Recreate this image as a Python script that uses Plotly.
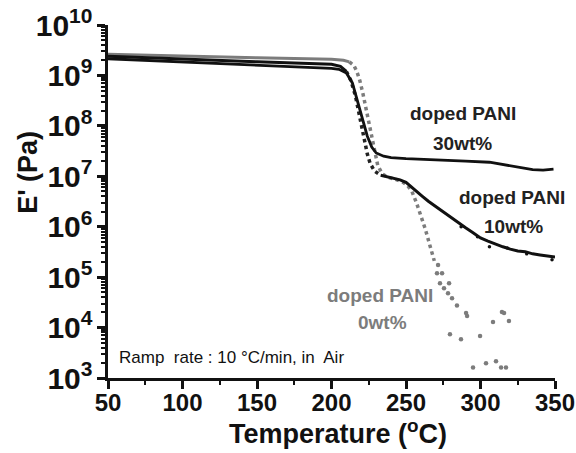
import plotly.graph_objects as go

# ---------------- data ----------------
# doped PANI 30wt%  (solid black)
T_30 = [50, 75, 100, 125, 150, 175, 200, 205, 210, 214, 218, 221, 224, 227, 230,
        235, 240, 250, 260, 273, 290, 306, 318, 327, 335, 342, 349]
E_30 = [2.14e9, 2.0e9, 1.82e9, 1.70e9, 1.58e9, 1.48e9, 1.38e9, 1.32e9, 1.12e9, 7.1e8,
        2.8e8, 1.26e8, 6.3e7, 3.8e7, 2.9e7, 2.5e7, 2.35e7, 2.24e7, 2.19e7, 2.09e7,
        2.0e7, 1.9e7, 1.66e7, 1.48e7, 1.35e7, 1.32e7, 1.38e7]

# doped PANI 10wt%  (black)
T_10 = [50, 100, 150, 200, 206, 210, 213, 216, 218, 220, 222, 224, 226, 229, 233,
        240, 246, 250, 253, 257, 261, 265, 270, 275, 280, 285, 290, 295, 300, 305,
        310, 315, 320, 325, 330, 335, 340, 345, 350]
E_10 = [2.4e9, 2.09e9, 1.86e9, 1.66e9, 1.51e9, 1.2e9, 7.9e8, 4.0e8, 2.0e8, 1.0e8,
        5.0e7, 2.8e7, 1.78e7, 1.26e7, 1.05e7, 9.3e6, 8.5e6, 7.6e6, 6.3e6, 5.0e6,
        4.0e6, 3.2e6, 2.5e6, 2.0e6, 1.58e6, 1.2e6, 9.5e5, 7.6e5, 6.0e5, 5.2e5,
        4.5e5, 4.0e5, 3.6e5, 3.3e5, 3.2e5, 2.9e5, 2.75e5, 2.6e5, 2.5e5]
# stray points in the noisy tail of the 10wt% curve
T_10_dots = [287, 298, 306, 318, 331, 348]
E_10_dots = [1.0e6, 6.3e5, 4.0e5, 3.8e5, 2.9e5, 2.2e5]

# doped PANI 0wt%  (grey dotted)
T_0 = [50, 100, 150, 200, 208, 212, 215, 217, 219, 221, 223, 225, 227, 229, 231,
       234, 238, 243, 248, 251, 254, 257, 260, 263, 266, 269]
E_0 = [2.63e9, 2.4e9, 2.24e9, 2.09e9, 2.0e9, 1.86e9, 1.58e9, 1.2e9, 7.9e8, 4.5e8,
       2.24e8, 1.12e8, 6.0e7, 3.0e7, 1.66e7, 1.12e7, 9.5e6, 8.7e6, 7.6e6, 6.6e6,
       5.0e6, 3.0e6, 1.66e6, 8.9e5, 4.3e5, 2.1e5]
T_0_dots = [271.5, 270.8, 274.2, 272.8, 278.9, 275.5, 278.2, 280.9, 284.2, 290.3,
            291.0, 279.5, 286.9, 299.7, 308.4, 314.4, 315.8, 319.1, 295.0, 303.7,
            310.4, 313.8, 317.1]
E_0_dots = [1.74e5, 1.2e5, 1.2e5, 7.6e4, 7.6e4, 6.0e4, 4.8e4, 3.8e4, 2.75e4, 1.95e4,
            1.7e4, 7.4e3, 5.9e3, 6.8e3, 1.29e4, 2.04e4, 1.95e4, 1.35e4, 1.62e3,
            1.95e3, 2.14e3, 1.62e3, 1.62e3]

x_ticks = [50, 100, 150, 200, 250, 300, 350]

GREY = "#7c7c7c"
BLACK = "#111111"
FONT = "Liberation Sans, Arial, sans-serif"

# split indices: solid plateau, dotted fast drop, solid afterwards
k0 = T_0.index(212)
a10, b10 = T_10.index(210), T_10.index(233)

fig = go.Figure()
fig.add_trace(go.Scatter(x=T_0[:k0 + 1], y=E_0[:k0 + 1], mode="lines",
                         line=dict(color=GREY, width=3), showlegend=False))
fig.add_trace(go.Scatter(x=T_0[k0:], y=E_0[k0:], mode="lines",
                         line=dict(color=GREY, width=3.5, dash="dot"), showlegend=False))
fig.add_trace(go.Scatter(x=T_0_dots, y=E_0_dots, mode="markers",
                         marker=dict(color=GREY, size=4.5), showlegend=False))
fig.add_trace(go.Scatter(x=T_10[:a10 + 1], y=E_10[:a10 + 1], mode="lines",
                         line=dict(color=BLACK, width=3), showlegend=False))
fig.add_trace(go.Scatter(x=T_10[a10:b10 + 1], y=E_10[a10:b10 + 1], mode="lines",
                         line=dict(color="#222222", width=3.5, dash="dot"), showlegend=False))
fig.add_trace(go.Scatter(x=T_10[b10:], y=E_10[b10:], mode="lines",
                         line=dict(color=BLACK, width=3), showlegend=False))
fig.add_trace(go.Scatter(x=T_10_dots, y=E_10_dots, mode="markers",
                         marker=dict(color=BLACK, size=3.5), showlegend=False))
fig.add_trace(go.Scatter(x=T_30, y=E_30, mode="lines",
                         line=dict(color=BLACK, width=2.8), showlegend=False))

ann_font = dict(family=FONT, size=19, color="#222222", weight="bold")
grey_font = dict(family=FONT, size=19, color=GREY, weight="bold")
annotations = [
    dict(x=288, y=8.25, text="doped PANI", font=ann_font),
    dict(x=288, y=7.66, text="30wt%", font=ann_font),
    dict(x=321, y=6.57, text="doped PANI", font=ann_font),
    dict(x=322, y=6.01, text="10wt%", font=ann_font),
    dict(x=232.5, y=4.64, text="doped PANI", font=grey_font),
    dict(x=234, y=4.11, text="0wt%", font=grey_font),
]
for a in annotations:
    a.update(xref="x", yref="y", showarrow=False)
    fig.add_annotation(**a)

fig.add_annotation(x=56, y=3.41, xref="x", yref="y", xanchor="left",
                   text="Ramp  rate : 10 °C/min, in  Air", showarrow=False,
                   font=dict(family=FONT, size=17, color=BLACK))

# axis titles placed like the reference
fig.add_annotation(x=-0.179, y=0.584, xref="paper", yref="paper",
                   xanchor="center", yanchor="middle",
                   text="E' (Pa)", textangle=-90, showarrow=False,
                   font=dict(family=FONT, size=27, color=BLACK, weight="bold"))
fig.add_annotation(x=0.5145, y=-0.152, xref="paper", yref="paper",
                   xanchor="center", yanchor="middle",
                   text="Temperature (<sup>o</sup>C)", showarrow=False,
                   font=dict(family=FONT, size=27, color=BLACK, weight="bold"))

fig.update_layout(
    width=576, height=453,
    margin=dict(l=108, r=21, t=25, b=75),
    paper_bgcolor="white", plot_bgcolor="white",
    font=dict(family=FONT, color=BLACK),
)
fig.update_xaxes(
    range=[50, 350], tickvals=x_ticks, ticktext=[str(v) for v in x_ticks],
    automargin=False, ticklabeloverflow="allow", ticklabelstandoff=-7,
    showline=True, linecolor=BLACK, linewidth=2.5, showgrid=False, zeroline=False,
    ticks="outside", ticklen=8, tickwidth=2.5, tickcolor=BLACK,
    minor=dict(ticks="outside", ticklen=4, tickwidth=2, tickcolor=BLACK, dtick=25,
               showgrid=False),
    tickfont=dict(family=FONT, size=24, weight="bold"),
)
fig.update_yaxes(
    type="log", range=[3, 10], dtick=1, exponentformat="power",
    automargin=False, ticklabeloverflow="allow",
    showline=True, linecolor=BLACK, linewidth=2.5, showgrid=False, zeroline=False,
    ticks="outside", ticklen=8, tickwidth=2.5, tickcolor=BLACK,
    minor=dict(ticks="outside", ticklen=4, tickwidth=1.5, tickcolor=BLACK,
               showgrid=False),
    tickfont=dict(family=FONT, size=24, weight="bold"),
)

# remove the default 8px body margin so the figure sits at the page's top-left corner
fig.write_html("out.html", config={"displayModeBar": False},
               post_script="document.body.style.margin='0px';")
